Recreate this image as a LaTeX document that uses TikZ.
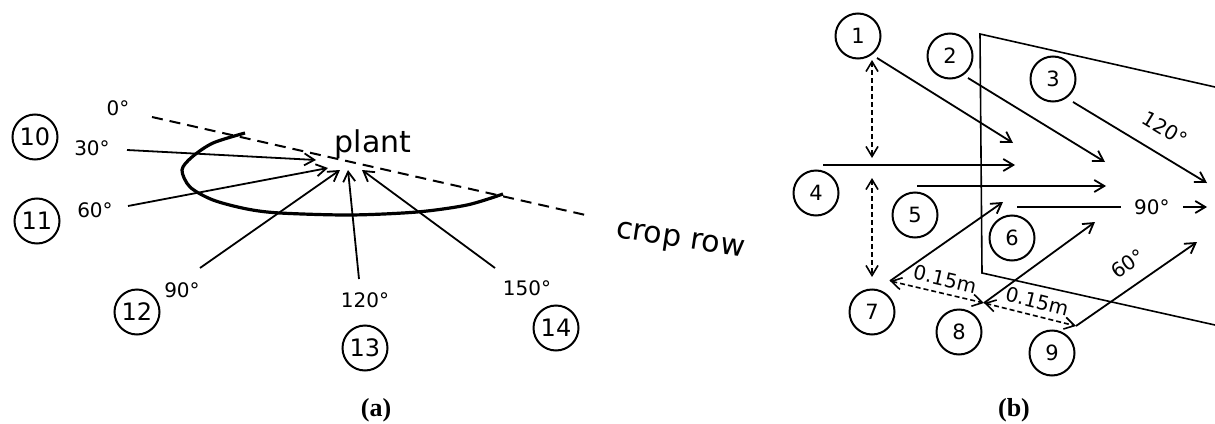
\documentclass[tikz,border=0pt]{standalone}
\usepackage{fontspec}
\setmainfont{DejaVu Sans}
\newfontfamily\captionfont{Liberation Serif}
\usetikzlibrary{arrows.meta}

\tikzset{
  numcirc/.style={circle,draw,line width=2pt,minimum size=45pt,inner sep=0pt,font=\fontsize{24}{24}\selectfont},
  smallnum/.style={numcirc,font=\fontsize{21}{21}\selectfont},
  anglabel/.style={font=\fontsize{20}{20}\selectfont,inner sep=1pt},
  distlabel/.style={font=\fontsize{20}{20}\selectfont,inner sep=1pt,sloped,above=5pt},
  rayarrow/.style={->,line width=1.8pt},
  gaparrow/.style={<->,line width=1.6pt,dash pattern=on 5pt off 3pt},
  capbox/.style={font=\captionfont\bfseries\fontsize{26}{26}\selectfont},
}

\begin{document}
\begin{tikzpicture}[x=1pt,y=-1pt,>={Straight Barb[length=10pt,width=12pt]}]
        \useasboundingbox (0,0) rectangle (1215,423);

        \node[numcirc] (n10) at (35,137) {10} ;
        \node[numcirc] (n11) at (37,221) {11} ;
        \node[numcirc] (n12) at (137,312) {12} ;
        \node[numcirc] (n13) at (365,348) {13} ;
        \node[numcirc] (n14) at (556,328) {14} ;
        \node[anglabel] (d0) at (118,108) {0°} ;
        \node[anglabel] (d30) at (92,148) {30°} ;
        \node[anglabel] (d60) at (95,210) {60°} ;
        \node[anglabel] (d90) at (182,290) {90°} ;
        \node[anglabel] (d120) at (365,300) {120°} ;
        \node[anglabel] (d150) at (527,288) {150°} ;
        \node[anchor=base,font=\fontsize{30}{30}\selectfont] (plant) at (373,152) {plant} ;
        \node[rotate=-8.6,font=\fontsize{30}{30}\selectfont] (row) at (680,242) {crop row} ;

        \coordinate (r0) at (152,117) ;
        \coordinate (r1) at (590,216) ;
        \coordinate (s30) at (127,150) ;  \coordinate (e30) at (316,160) ;
        \coordinate (s60) at (128,206) ;  \coordinate (e60) at (328,168) ;
        \coordinate (s90) at (200,268) ;  \coordinate (e90) at (340,170) ;
        \coordinate (s120) at (359,279) ; \coordinate (e120) at (348,170) ;
        \coordinate (s150) at (495,268) ; \coordinate (e150) at (362,170) ;

        \draw[line width=2pt,dash pattern=on 11pt off 7pt] (r0) -- (r1) ;
        \draw[line width=3.2pt] plot[smooth] coordinates {(245,133) (213,143) (192,157) (182,170)
          (190,187) (213,200) (247,209) (280,213) (350,215) (417,212) (467,205) (503,194)} ;
        \draw
        (s30) edge[rayarrow] (e30)
        (s60) edge[rayarrow] (e60)
        (s90) edge[rayarrow] (e90)
        (s120) edge[rayarrow] (e120)
        (s150) edge[rayarrow] (e150)
        ;

        \node[smallnum] (n1) at (858,36) {1} ;
        \node[smallnum] (n2) at (950,56) {2} ;
        \node[smallnum] (n3) at (1053,79) {3} ;
        \node[smallnum] (n4) at (816,193) {4} ;
        \node[smallnum] (n5) at (915,215) {5} ;
        \node[smallnum] (n6) at (1012,238) {6} ;
        \node[smallnum] (n7) at (872,312) {7} ;
        \node[smallnum] (n8) at (959,332) {8} ;
        \node[smallnum] (n9) at (1052,353) {9} ;

        \coordinate (f1) at (1215,87) ;
        \coordinate (f2) at (980,34) ;
        \coordinate (f3) at (982,273) ;
        \coordinate (f4) at (1215,325) ;
        \draw[line width=1.6pt] (f1) -- (f2) -- (f3) -- (f4) ;

        \coordinate (a1) at (877,58) ;   \coordinate (b1) at (1013,143) ;
        \coordinate (a2) at (968,78) ;   \coordinate (b2) at (1105,162) ;
        \coordinate (a3) at (1073,102) ; \coordinate (b3) at (1207,183) ;
        \coordinate (a4) at (823,165) ;  \coordinate (b4) at (1015,165) ;
        \coordinate (a5) at (917,186) ;  \coordinate (b5) at (1106,186) ;
        \coordinate (a6) at (1017,207) ; \coordinate (b6) at (1207,207) ;
        \coordinate (a7) at (890,281) ;  \coordinate (b7) at (1003,202) ;
        \coordinate (a8) at (984,303) ;  \coordinate (b8) at (1095,222) ;
        \coordinate (a9) at (1076,326) ; \coordinate (b9) at (1197,242) ;
        \coordinate (v1) at (872,60) ;   \coordinate (w1) at (872,158) ;
        \coordinate (v2) at (872,178) ;  \coordinate (w2) at (872,277) ;

        \draw
        (a1) edge[rayarrow] (b1)
        (a2) edge[rayarrow] (b2)
        (a3) edge[rayarrow] node[anglabel,sloped,above=15pt,pos=0.59] {120°} (b3)
        (a4) edge[rayarrow] (b4)
        (a5) edge[rayarrow] (b5)
        (a6) edge[rayarrow] node[anglabel,fill=white,inner xsep=13pt,pos=0.71] {90°} (b6)
        (a7) edge[rayarrow] (b7)
        (a8) edge[rayarrow] (b8)
        (a9) edge[rayarrow] node[anglabel,sloped,above=12pt,pos=0.53] {60°} (b9)
        (v1) edge[gaparrow] (w1)
        (v2) edge[gaparrow] (w2)
        (a7) edge[gaparrow] node[distlabel,pos=0.55] {0.15m} (a8)
        (a8) edge[gaparrow] node[distlabel,pos=0.54] {0.15m} (a9)
        ;

        \node[capbox] (capa) at (376,410) {(a)} ;
        \node[capbox] (capb) at (1014,410) {(b)} ;
      \end{tikzpicture}
\end{document}
